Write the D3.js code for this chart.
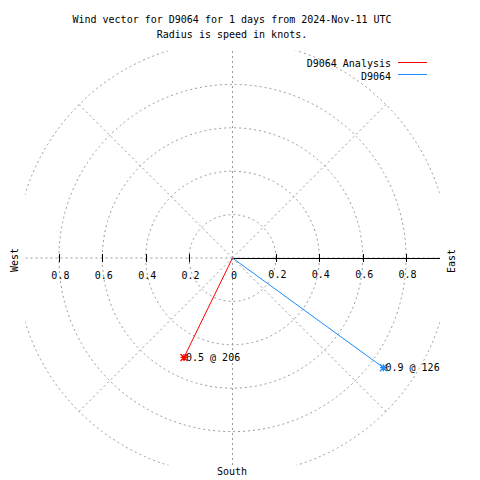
<!DOCTYPE html>
<html><head><meta charset="utf-8">
<script src="https://cdn.jsdelivr.net/npm/d3@7"></script>
<style>
body{margin:0;background:#fff;}
text{font-family:"DejaVu Sans Mono","Liberation Mono",monospace;font-size:10px;fill:#000;}
</style></head>
<body><svg id="c" width="480" height="480"></svg>
<script>
// ---- data ----
const titleLines = ["Wind vector for D9064 for 1 days from 2024-Nov-11 UTC", "Radius is speed in knots."];
const seriesNames = ["D9064 Analysis", "D9064"];
const seriesColors = ["#ff0000", "#1a8cff"];
const speeds = [0.51, 0.86];       // knots
const directions = [206, 126];     // degrees, compass
const radialTicks = [0.2, 0.4, 0.6, 0.8];
const gridCircles = [0.2, 0.4, 0.6, 0.8, 1.0];
const gridAngles = [0, 45, 90, 135, 180, 225, 270, 315];
const compassLabels = ["West", "East", "South"];

// ---- layout ----
const cx = 232.5, cy = 258;
const rmax = 0.955;
const r = d3.scaleLinear().domain([0, 1]).range([0, 217]);
const svg = d3.select("#c");
const gridColor = "#999999";

svg.append("rect").attr("width", 480).attr("height", 480).attr("fill", "#fff");

svg.append("clipPath").attr("id", "clip").append("rect")
  .attr("x", cx - r(rmax)).attr("y", cy - r(rmax))
  .attr("width", 2 * r(rmax)).attr("height", 2 * r(rmax));

const g = svg.append("g").attr("clip-path", "url(#clip)");

// grid circles
g.selectAll("circle.grid").data(gridCircles).enter().append("circle")
  .attr("cx", cx).attr("cy", cy).attr("r", d => r(d))
  .attr("fill", "none").attr("stroke", gridColor).attr("stroke-width", 1)
  .attr("stroke-dasharray", "2,3");

// radial grid lines (to radius 1.0)
g.selectAll("line.spoke").data(gridAngles).enter().append("line")
  .attr("x1", cx).attr("y1", cy)
  .attr("x2", d => cx + r(1.0) * Math.sin(d * Math.PI / 180))
  .attr("y2", d => cy - r(1.0) * Math.cos(d * Math.PI / 180))
  .attr("stroke", gridColor).attr("stroke-width", 1).attr("stroke-dasharray", "2,3");

// polar axis (solid, east direction)
svg.append("line").attr("x1", cx).attr("y1", cy + 0.5).attr("x2", cx + r(rmax)).attr("y2", cy + 0.5)
  .attr("stroke", "#000").attr("stroke-width", 1).attr("shape-rendering", "crispEdges");

// ticks on both sides
const tickVals = [];
radialTicks.forEach(t => { tickVals.push(t); tickVals.push(-t); });
svg.selectAll("line.tick").data(tickVals).enter().append("line")
  .attr("x1", d => Math.round(cx + r(d)) + 0.5).attr("x2", d => Math.round(cx + r(d)) + 0.5)
  .attr("y1", cy - 4).attr("y2", cy + 4)
  .attr("stroke", "#000").attr("stroke-width", 1).attr("shape-rendering", "crispEdges");

const fmtTick = d3.format(".1f");
svg.selectAll("text.tl").data([0].concat(radialTicks)).enter().append("text")
  .attr("x", d => cx - r(d) + 1.5).attr("y", cy + 21)
  .attr("text-anchor", "middle")
  .text(d => d === 0 ? "0" : fmtTick(d));
svg.selectAll("text.tr").data(radialTicks).enter().append("text")
  .attr("x", d => cx + r(d) + 1.5).attr("y", cy + 20)
  .attr("text-anchor", "middle")
  .text(d => fmtTick(d));

// vectors
const pts = speeds.map((s, i) => {
  const a = directions[i] * Math.PI / 180;
  return {x: cx + r(s) * Math.sin(a), y: cy - r(s) * Math.cos(a), i};
});
svg.selectAll("line.vec").data(pts).enter().append("line")
  .attr("x1", cx).attr("y1", cy).attr("x2", d => d.x).attr("y2", d => d.y)
  .attr("stroke", d => seriesColors[d.i]).attr("stroke-width", 1);

// asterisk markers
const ms = 3.5;
svg.selectAll("path.mk").data(pts).enter().append("path")
  .attr("d", d => {
    const p = d3.path();
    p.moveTo(d.x - ms, d.y); p.lineTo(d.x + ms, d.y);
    p.moveTo(d.x, d.y - ms); p.lineTo(d.x, d.y + ms);
    p.moveTo(d.x - ms, d.y - ms); p.lineTo(d.x + ms, d.y + ms);
    p.moveTo(d.x - ms, d.y + ms); p.lineTo(d.x + ms, d.y - ms);
    return p.toString();
  })
  .attr("stroke", d => seriesColors[d.i]).attr("stroke-width", 1.3).attr("fill", "none");

svg.selectAll("text.vl").data(pts).enter().append("text")
  .attr("x", d => d.x + 2).attr("y", d => d.y + 3.5)
  .text(d => fmtTick(speeds[d.i]) + " @ " + directions[d.i]);

// titles
svg.selectAll("text.title").data(titleLines).enter().append("text")
  .attr("x", 232).attr("y", (d, i) => 23 + 14.5 * i).attr("text-anchor", "middle").text(d => d);

// compass labels
svg.append("text").attr("transform", "translate(18,260) rotate(-90)").attr("text-anchor", "middle").text(compassLabels[0]);
svg.append("text").attr("transform", "translate(455,261) rotate(-90)").attr("text-anchor", "middle").text(compassLabels[1]);
svg.append("text").attr("x", 232).attr("y", 475).attr("text-anchor", "middle").text(compassLabels[2]);

// legend
seriesNames.forEach((n, i) => {
  svg.append("text").attr("x", 391).attr("y", 67 + 12.5 * i).attr("text-anchor", "end").text(n);
  svg.append("line").attr("x1", 398).attr("x2", 427)
    .attr("y1", 62.5 + 12 * i).attr("y2", 62.5 + 12 * i)
    .attr("stroke", seriesColors[i]).attr("stroke-width", 1).attr("shape-rendering", "crispEdges");
});
</script></body></html>
